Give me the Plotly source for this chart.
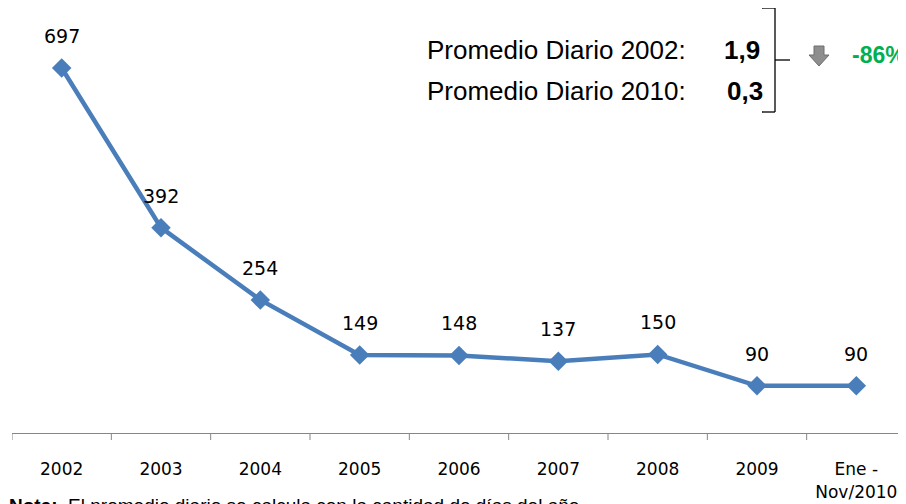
import plotly.graph_objects as go

categories = ["2002", "2003", "2004", "2005", "2006", "2007", "2008", "2009", "Ene -<br>Nov/2010"]
values = [697, 392, 254, 149, 148, 137, 150, 90, 90]
labels = [str(v) for v in values]

W, H = 906, 504
OFF = 8  # page offset seen in the rendered view
L, R, T, B = 4, 8, 6, 79
PW = W - L - R
PH = H - T - B


def px(x):
    return (x - OFF - L) / PW


def py(y):
    return (H - B - (y - OFF)) / PH


fig = go.Figure()
fig.add_trace(go.Scatter(
    x=list(range(len(categories))), y=values,
    mode="lines+markers",
    line=dict(color="#4A7EBB", width=4.5),
    marker=dict(symbol="diamond", size=15, color="#4A7EBB"),
    cliponaxis=False,
    hoverinfo="skip",
))

shapes = []
for i in range(len(categories) + 1):
    shapes.append(dict(type="line", xref="x", yref="paper", x0=i - 0.5, x1=i - 0.5,
                       y0=0, y1=py(440), line=dict(color="#868686", width=1)))
bc = "#000000"
shapes.append(dict(type="line", xref="paper", yref="paper", x0=px(762), x1=px(775), y0=py(8), y1=py(8), line=dict(color=bc, width=1.3)))
shapes.append(dict(type="line", xref="paper", yref="paper", x0=px(775), x1=px(775), y0=py(8), y1=py(112), line=dict(color=bc, width=1.3)))
shapes.append(dict(type="line", xref="paper", yref="paper", x0=px(762), x1=px(775), y0=py(112), y1=py(112), line=dict(color=bc, width=1.3)))
shapes.append(dict(type="line", xref="paper", yref="paper", x0=px(775), x1=px(790), y0=py(60), y1=py(60), line=dict(color=bc, width=1.3)))
ax, ay0, ayh, ay1, sw, hw = 819, 46, 55, 66, 5, 10
path = "M {a},{b} L {c},{b} L {c},{d} L {e},{d} L {f},{g} L {h},{d} L {a},{d} Z".format(
    a=px(ax - sw), b=py(ay0), c=px(ax + sw), d=py(ayh), e=px(ax + hw), f=px(ax), g=py(ay1),
    h=px(ax - hw))
shapes.append(dict(type="path", xref="paper", yref="paper", path=path,
                   fillcolor="#8E8E8E", line=dict(color="#6E6E6E", width=1)))

arial = "Liberation Sans, Arial, sans-serif"
annotations = [
    dict(text="Promedio Diario 2002:", x=px(688), y=py(50), xanchor="right", yanchor="middle"),
    dict(text="<b>1,9</b>", x=px(742), y=py(50), xanchor="center", yanchor="middle"),
    dict(text="Promedio Diario 2010:", x=px(688), y=py(91), xanchor="right", yanchor="middle"),
    dict(text="<b>0,3</b>", x=px(745), y=py(91), xanchor="center", yanchor="middle"),
    dict(text="<b>-86%</b>", x=px(850), y=py(55), xanchor="left", yanchor="middle",
         font=dict(family=arial, size=23, color="#00B050")),
    dict(text="<b>Nota:</b>  El promedio diario se calcula con la cantidad de días del año",
         x=px(8), y=py(505), xanchor="left", yanchor="middle", borderpad=0,
         font=dict(family=arial, size=19, color="#000000")),
]
for a in annotations:
    a.update(xref="paper", yref="paper", showarrow=False)
    a.setdefault("font", dict(family=arial, size=26, color="#000000"))

for i, (v, t) in enumerate(zip(values, labels)):
    annotations.append(dict(x=i, y=v, xref="x", yref="y", text=t, showarrow=False,
                            yshift=32, yanchor="middle", xanchor="center",
                            font=dict(family="DejaVu Sans, sans-serif", size=19, color="#000000")))

fig.update_layout(
    width=W, height=H,
    margin=dict(l=L, r=R, t=T, b=B),
    paper_bgcolor="white", plot_bgcolor="white",
    showlegend=False,
    shapes=shapes, annotations=annotations,
    xaxis=dict(range=[-0.5, len(categories) - 0.5], tickmode="array",
               tickvals=list(range(len(categories))), ticktext=categories,
               showgrid=False, zeroline=False, showline=True, linecolor="#868686", linewidth=1,
               ticks="", tickfont=dict(family="DejaVu Sans, sans-serif", size=17, color="#000000"),
               ticklabelstandoff=21, fixedrange=True),
    yaxis=dict(range=[0, 800], visible=False, fixedrange=True),
)

fig.write_html("out.html")
